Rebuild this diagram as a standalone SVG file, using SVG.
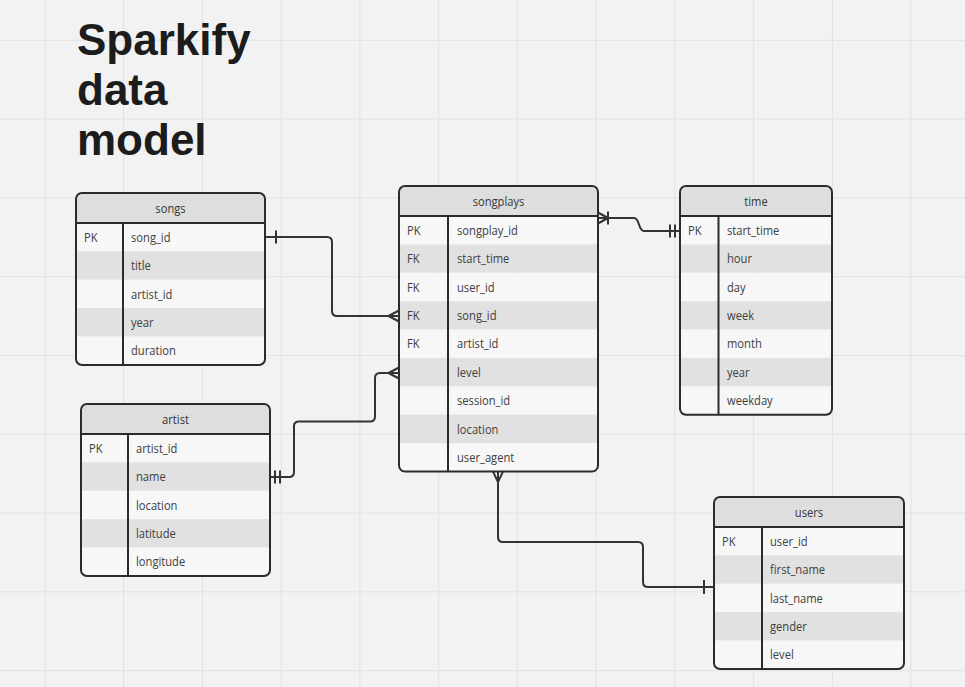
<svg xmlns="http://www.w3.org/2000/svg" width="965" height="687" viewBox="0 0 965 687">
<defs>
<style>
.bg{fill:#f2f2f2}
.grid{stroke:#e2e2e2;stroke-width:1}
.title{font-family:"Liberation Sans",Arial,sans-serif;font-weight:bold;font-size:44px;fill:#1c1c1c}
.hdr{fill:#dedede}
.r0{fill:#f7f7f7}
.r1{fill:#e1e1e1}
.border{fill:none;stroke:#2b2b2b;stroke-width:2}
.sep{stroke:#2b2b2b;stroke-width:2}
.ht{font-family:"Open Sans","Noto Sans",sans-serif;font-size:13px;fill:#363636;text-anchor:middle}
.t{font-family:"Open Sans","Noto Sans",sans-serif;font-size:13px;fill:#404040}
.conn{fill:none;stroke:#333;stroke-width:2;stroke-linejoin:round}
</style>
<clipPath id="c-songs"><rect x="76" y="193" width="189" height="172" rx="6"/></clipPath>
<clipPath id="c-songplays"><rect x="399" y="186" width="199" height="285.6" rx="6"/></clipPath>
<clipPath id="c-time"><rect x="680" y="186" width="152" height="228.8" rx="6"/></clipPath>
<clipPath id="c-artist"><rect x="81" y="404" width="189" height="172" rx="6"/></clipPath>
<clipPath id="c-users"><rect x="714" y="497" width="190" height="172" rx="6"/></clipPath>
</defs>
<rect class="bg" x="0" y="0" width="965" height="687"/>
<g id="grid" class="grid">
<line x1="44.9" y1="0" x2="44.9" y2="687"/>
<line x1="123.6" y1="0" x2="123.6" y2="687"/>
<line x1="202.4" y1="0" x2="202.4" y2="687"/>
<line x1="281.1" y1="0" x2="281.1" y2="687"/>
<line x1="359.9" y1="0" x2="359.9" y2="687"/>
<line x1="438.6" y1="0" x2="438.6" y2="687"/>
<line x1="517.4" y1="0" x2="517.4" y2="687"/>
<line x1="596.1" y1="0" x2="596.1" y2="687"/>
<line x1="674.9" y1="0" x2="674.9" y2="687"/>
<line x1="753.6" y1="0" x2="753.6" y2="687"/>
<line x1="832.4" y1="0" x2="832.4" y2="687"/>
<line x1="911.1" y1="0" x2="911.1" y2="687"/>
<line x1="0" y1="40.3" x2="965" y2="40.3"/>
<line x1="0" y1="119.1" x2="965" y2="119.1"/>
<line x1="0" y1="197.9" x2="965" y2="197.9"/>
<line x1="0" y1="276.7" x2="965" y2="276.7"/>
<line x1="0" y1="355.5" x2="965" y2="355.5"/>
<line x1="0" y1="434.3" x2="965" y2="434.3"/>
<line x1="0" y1="513.1" x2="965" y2="513.1"/>
<line x1="0" y1="591.9" x2="965" y2="591.9"/>
<line x1="0" y1="670.7" x2="965" y2="670.7"/>
</g>
<g id="title">
<text class="title" x="77" y="54.5">Sparkify</text>
<text class="title" x="77" y="104.5">data</text>
<text class="title" x="77" y="154.5">model</text>
</g>
<g id="songs">
<g clip-path="url(#c-songs)">
<rect class="hdr" x="76" y="193" width="189" height="30"/>
<rect class="r0" x="76" y="223" width="189" height="28.4"/>
<rect class="r1" x="76" y="251.4" width="189" height="28.4"/>
<rect class="r0" x="76" y="279.8" width="189" height="28.4"/>
<rect class="r1" x="76" y="308.2" width="189" height="28.4"/>
<rect class="r0" x="76" y="336.6" width="189" height="28.4"/>
</g>
<line class="sep" x1="76" y1="223" x2="265" y2="223"/>
<line class="sep" x1="123" y1="223" x2="123" y2="365"/>
<rect class="border" x="76" y="193" width="189" height="172" rx="6"/>
<g transform="translate(170.5,0) scale(0.86,1)"><text class="ht" x="0" y="212.8">songs</text></g>
<g transform="translate(84,0) scale(0.86,1)"><text class="t" x="0" y="241.9">PK</text></g>
<g transform="translate(131,0) scale(0.86,1)">
<text class="t" x="0" y="241.9">song_id</text>
<text class="t" x="0" y="270.3">title</text>
<text class="t" x="0" y="298.7">artist_id</text>
<text class="t" x="0" y="327.1">year</text>
<text class="t" x="0" y="355.5">duration</text>
</g>
</g>
<g id="songplays">
<g clip-path="url(#c-songplays)">
<rect class="hdr" x="399" y="186" width="199" height="30"/>
<rect class="r0" x="399" y="216" width="199" height="28.4"/>
<rect class="r1" x="399" y="244.4" width="199" height="28.4"/>
<rect class="r0" x="399" y="272.8" width="199" height="28.4"/>
<rect class="r1" x="399" y="301.2" width="199" height="28.4"/>
<rect class="r0" x="399" y="329.6" width="199" height="28.4"/>
<rect class="r1" x="399" y="358" width="199" height="28.4"/>
<rect class="r0" x="399" y="386.4" width="199" height="28.4"/>
<rect class="r1" x="399" y="414.8" width="199" height="28.4"/>
<rect class="r0" x="399" y="443.2" width="199" height="28.4"/>
</g>
<line class="sep" x1="399" y1="216" x2="598" y2="216"/>
<line class="sep" x1="448" y1="216" x2="448" y2="471.6"/>
<rect class="border" x="399" y="186" width="199" height="285.6" rx="6"/>
<g transform="translate(498.5,0) scale(0.86,1)"><text class="ht" x="0" y="205.8">songplays</text></g>
<g transform="translate(407,0) scale(0.86,1)">
<text class="t" x="0" y="234.9">PK</text>
<text class="t" x="0" y="263.3">FK</text>
<text class="t" x="0" y="291.7">FK</text>
<text class="t" x="0" y="320.1">FK</text>
<text class="t" x="0" y="348.5">FK</text>
</g>
<g transform="translate(457,0) scale(0.86,1)">
<text class="t" x="0" y="234.9">songplay_id</text>
<text class="t" x="0" y="263.3">start_time</text>
<text class="t" x="0" y="291.7">user_id</text>
<text class="t" x="0" y="320.1">song_id</text>
<text class="t" x="0" y="348.5">artist_id</text>
<text class="t" x="0" y="376.9">level</text>
<text class="t" x="0" y="405.3">session_id</text>
<text class="t" x="0" y="433.7">location</text>
<text class="t" x="0" y="462.1">user_agent</text>
</g>
</g>
<g id="time">
<g clip-path="url(#c-time)">
<rect class="hdr" x="680" y="186" width="152" height="30"/>
<rect class="r0" x="680" y="216" width="152" height="28.4"/>
<rect class="r1" x="680" y="244.4" width="152" height="28.4"/>
<rect class="r0" x="680" y="272.8" width="152" height="28.4"/>
<rect class="r1" x="680" y="301.2" width="152" height="28.4"/>
<rect class="r0" x="680" y="329.6" width="152" height="28.4"/>
<rect class="r1" x="680" y="358" width="152" height="28.4"/>
<rect class="r0" x="680" y="386.4" width="152" height="28.4"/>
</g>
<line class="sep" x1="680" y1="216" x2="832" y2="216"/>
<line class="sep" x1="718.5" y1="216" x2="718.5" y2="414.8"/>
<rect class="border" x="680" y="186" width="152" height="228.8" rx="6"/>
<g transform="translate(756,0) scale(0.86,1)"><text class="ht" x="0" y="205.8">time</text></g>
<g transform="translate(688,0) scale(0.86,1)"><text class="t" x="0" y="234.9">PK</text></g>
<g transform="translate(727,0) scale(0.86,1)">
<text class="t" x="0" y="234.9">start_time</text>
<text class="t" x="0" y="263.3">hour</text>
<text class="t" x="0" y="291.7">day</text>
<text class="t" x="0" y="320.1">week</text>
<text class="t" x="0" y="348.5">month</text>
<text class="t" x="0" y="376.9">year</text>
<text class="t" x="0" y="405.3">weekday</text>
</g>
</g>
<g id="artist">
<g clip-path="url(#c-artist)">
<rect class="hdr" x="81" y="404" width="189" height="30"/>
<rect class="r0" x="81" y="434" width="189" height="28.4"/>
<rect class="r1" x="81" y="462.4" width="189" height="28.4"/>
<rect class="r0" x="81" y="490.8" width="189" height="28.4"/>
<rect class="r1" x="81" y="519.2" width="189" height="28.4"/>
<rect class="r0" x="81" y="547.6" width="189" height="28.4"/>
</g>
<line class="sep" x1="81" y1="434" x2="270" y2="434"/>
<line class="sep" x1="128" y1="434" x2="128" y2="576"/>
<rect class="border" x="81" y="404" width="189" height="172" rx="6"/>
<g transform="translate(175.5,0) scale(0.86,1)"><text class="ht" x="0" y="423.8">artist</text></g>
<g transform="translate(89,0) scale(0.86,1)"><text class="t" x="0" y="452.9">PK</text></g>
<g transform="translate(136,0) scale(0.86,1)">
<text class="t" x="0" y="452.9">artist_id</text>
<text class="t" x="0" y="481.3">name</text>
<text class="t" x="0" y="509.7">location</text>
<text class="t" x="0" y="538.1">latitude</text>
<text class="t" x="0" y="566.5">longitude</text>
</g>
</g>
<g id="users">
<g clip-path="url(#c-users)">
<rect class="hdr" x="714" y="497" width="190" height="30"/>
<rect class="r0" x="714" y="527" width="190" height="28.4"/>
<rect class="r1" x="714" y="555.4" width="190" height="28.4"/>
<rect class="r0" x="714" y="583.8" width="190" height="28.4"/>
<rect class="r1" x="714" y="612.2" width="190" height="28.4"/>
<rect class="r0" x="714" y="640.6" width="190" height="28.4"/>
</g>
<line class="sep" x1="714" y1="527" x2="904" y2="527"/>
<line class="sep" x1="762" y1="527" x2="762" y2="669"/>
<rect class="border" x="714" y="497" width="190" height="172" rx="6"/>
<g transform="translate(809,0) scale(0.86,1)"><text class="ht" x="0" y="516.8">users</text></g>
<g transform="translate(722,0) scale(0.86,1)"><text class="t" x="0" y="545.9">PK</text></g>
<g transform="translate(770,0) scale(0.86,1)">
<text class="t" x="0" y="545.9">user_id</text>
<text class="t" x="0" y="574.3">first_name</text>
<text class="t" x="0" y="602.7">last_name</text>
<text class="t" x="0" y="631.1">gender</text>
<text class="t" x="0" y="659.5">level</text>
</g>
</g>
<g id="connectors" class="conn">
<path d="M265,237 H327 Q332,237 332,242 V311 Q332,316 337,316 H399"/>
<path d="M276,230.5 V243.5"/>
<path d="M399,310.5 L388.5,316 L399,321.5"/>
<path d="M270,477 H289 Q294,477 294,472 V426 Q294,421.5 299,421.5 H370 Q375,421.5 375,416.5 V378 Q375,373 380,373 H399"/>
<path d="M275,470.5 V483.5 M280,470.5 V483.5"/>
<path d="M399,367.5 L388.5,373 L399,378.5"/>
<path d="M598,212.5 L608,218 L598,223.5 M608,211.5 V224.5"/>
<path d="M598,218 H634 C640,218 638,231 644,231 H680"/>
<path d="M670,224.5 V237.5 M675,224.5 V237.5"/>
<path d="M498,471.6 V537 Q498,542 503,542 H638 Q643,542 643,547 V582 Q643,587 648,587 H714"/>
<path d="M493,471.6 L498,482 L503,471.6"/>
<path d="M704,580 V594"/>
</g>
</svg>
